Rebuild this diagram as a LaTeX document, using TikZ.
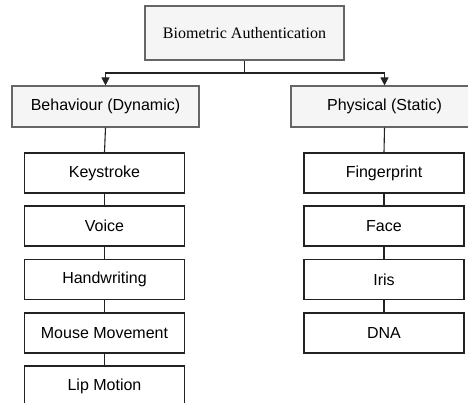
\documentclass[tikz,border=0pt]{standalone}
\usepackage{fontspec}
\setmainfont{Liberation Serif}
\setsansfont{Liberation Sans}
\usetikzlibrary{arrows.meta}
\definecolor{boxfill}{HTML}{F5F5F5}
\definecolor{topline}{HTML}{666666}
\definecolor{linecol}{HTML}{222222}
\tikzset{
  base/.style={draw, line width=1.1pt, inner sep=0pt, align=center},
  topbox/.style={base, draw=topline, fill=boxfill, font=\fontsize{16}{19}\selectfont},
  catbox/.style={base, draw=topline, fill=boxfill, minimum width=187pt, minimum height=41pt, font=\sffamily\fontsize{16}{19}\selectfont},
  leafbox/.style={base, draw=linecol, fill=white, minimum width=160pt, minimum height=40pt, font=\sffamily\fontsize{16}{19}\selectfont},
  conn/.style={draw=linecol, line width=1.1pt},
  arr/.style={conn, -{Triangle[width=8pt,length=8pt]}}
}
\begin{document}
\begin{tikzpicture}[x=1pt,y=-1pt]
\useasboundingbox (0,0) rectangle (468,403);
\node[topbox, minimum width=199pt, minimum height=54pt] (top) at (244.5,33) {Biometric Authentication};
\node[catbox] (beh) at (105.5,106.5) {Behaviour (Dynamic)};
\node[catbox] (phy) at (384.5,106.5) {Physical (Static)};
\node[leafbox] (key) at (104.5,173) {Keystroke};
\node[leafbox] (voi) at (104.5,226) {Voice};
\node[leafbox] (han) at (104.5,279.5) {Handwriting};
\node[leafbox] (mou) at (104.5,333) {Mouse Movement};
\node[leafbox] (lip) at (104.5,386) {Lip Motion};
\node[leafbox] (fin) at (384,173) {Fingerprint};
\node[leafbox] (fac) at (384,226) {Face};
\node[leafbox] (iri) at (384,279.5) {Iris};
\node[leafbox] (dna) at (384,333) {DNA};
\coordinate (split) at (244.5,73);
\draw[conn] (top.south) -- (split);
\draw[arr] (split) -| (beh.north);
\draw[arr] (split) -| (phy.north);
\draw[conn] (beh.south) -- (key.north);
\draw[conn] (key.south) -- (voi.north);
\draw[conn] (voi.south) -- (han.north);
\draw[conn] (han.south) -- (mou.north);
\draw[conn] (mou.south) -- (lip.north);
\draw[conn] (phy.south) -- (fin.north);
\draw[conn] (fin.south) -- (fac.north);
\draw[conn] (fac.south) -- (iri.north);
\draw[conn] (iri.south) -- (dna.north);
\end{tikzpicture}
\end{document}
